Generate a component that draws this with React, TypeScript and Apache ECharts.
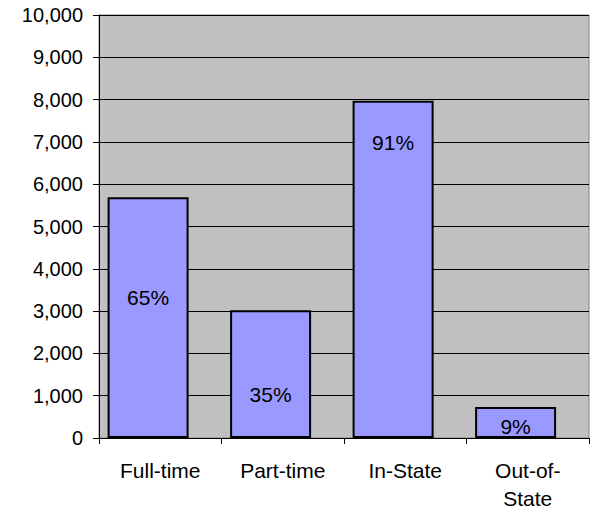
import React, { useEffect, useRef } from "react";
import * as echarts from "echarts";

const categories = ["Full-time", "Part-time", "In-State", "Out-of-\nState"];
const values = [5690, 3020, 7975, 735];
const percentLabels = ["65%", "35%", "91%", "9%"];
// vertical offsets of the percentage labels from each bar's top (px)
const labelOffsets = [100, 84, 42, 20];
const yTicks = { min: 0, max: 10000, interval: 1000 };

export default function App() {
  const ref = useRef<HTMLDivElement>(null);
  useEffect(() => {
    if (!ref.current) return;
    const chart = echarts.init(ref.current, null, { renderer: "svg" });
    const font = "'Liberation Sans', Arial, sans-serif";
    chart.setOption({
      animation: false,
      grid: {
        left: 99,
        top: 15,
        width: 490,
        height: 423,
        show: true,
        backgroundColor: "#c0c0c0",
        borderColor: "#808080",
        borderWidth: 1,
      },
      xAxis: {
        type: "category",
        data: categories,
        axisLine: { show: true, lineStyle: { color: "#000", width: 1 } },
        axisTick: { show: true, length: 6, lineStyle: { color: "#000" } },
        axisLabel: {
          color: "#000",
          fontFamily: font,
          fontSize: 21,
          lineHeight: 28,
          margin: 18,
          interval: 0,
        },
        splitLine: { show: false },
      },
      yAxis: {
        type: "value",
        min: yTicks.min,
        max: yTicks.max,
        interval: yTicks.interval,
        axisLine: { show: true, lineStyle: { color: "#000", width: 1 } },
        axisTick: { show: true, length: 6, lineStyle: { color: "#000" } },
        axisLabel: {
          color: "#000",
          fontFamily: font,
          fontSize: 20,
          margin: 16,
          formatter: (v: number) => v.toLocaleString("en-US"),
        },
        splitLine: { show: true, lineStyle: { color: "#000", width: 1 } },
      },
      series: [
        {
          type: "bar",
          barWidth: 81,
          barGap: "-70%",
          data: values.map((v, i) => ({
            value: v,
            label: {
              show: true,
              position: ["50%", labelOffsets[i]],
              align: "center",
              verticalAlign: "middle",
              formatter: percentLabels[i],
              color: "#000",
              fontFamily: font,
              fontSize: 21,
            },
          })),
          itemStyle: { color: "#9999ff", borderColor: "#000", borderWidth: 2 },
        },
        {
          type: "bar",
          barWidth: 81,
          data: values.map(() => null),
        },
      ],
    });
    return () => chart.dispose();
  }, []);
  return <div ref={ref} style={{ width: 592, height: 513, position: "absolute", left: 0, top: 0 }} />;
}
